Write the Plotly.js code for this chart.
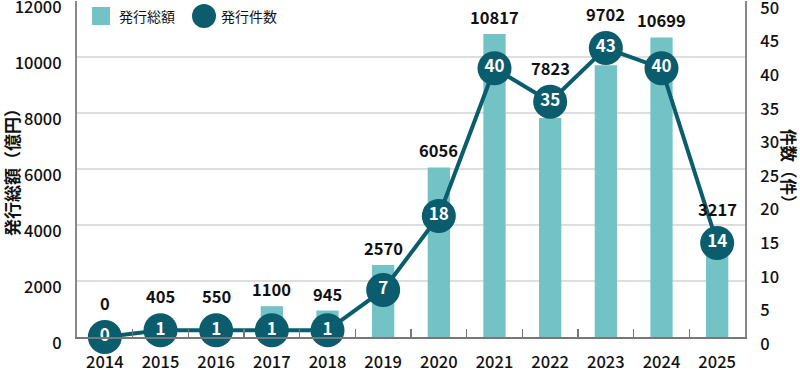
<!DOCTYPE html>
<html>
<head>
<meta charset="utf-8">
<script src="https://cdn.plot.ly/plotly-3.0.1.min.js"></script>
<style>
html,body{margin:0;padding:0;background:#fff;}
#chart{width:800px;height:373px;}
</style>
</head>
<body>
<div id="chart"></div>
<script>
const years = ['2014','2015','2016','2017','2018','2019','2020','2021','2022','2023','2024','2025'];
const amounts = [0, 405, 550, 1100, 945, 2570, 6056, 10817, 7823, 9702, 10699, 3217];
const counts = [0, 1, 1, 1, 1, 7, 18, 40, 35, 43, 40, 14];
const barName = '発行総額';
const lineName = '発行件数';
const leftTitle = '発行総額（億円）';
const rightTitle = '件数（件）';

const BAR_COLOR = '#72c2c6';
const LINE_COLOR = '#0b5d6d';
const FONT = '"Noto Sans CJK JP", "Noto Sans", sans-serif';
const W = 800, H = 373;
const M = {l: 77, r: 55, t: 1, b: 36};
const PW = W - M.l - M.r, PH = H - M.t - M.b;
const Y1MAX = 12000, Y2MAX = 50;

const px = v => (v - M.l) / PW;          // pixel x -> paper
const py = v => (H - M.b - v) / PH;      // pixel y -> paper

const barTrace = {
  type: 'bar', x: years, y: amounts, name: barName,
  marker: {color: BAR_COLOR}, width: 0.4, showlegend: false
};
const lineTrace = {
  type: 'scatter', mode: 'lines+markers+text', x: years, y: counts, yaxis: 'y2', name: lineName,
  line: {color: LINE_COLOR, width: 4},
  marker: {color: LINE_COLOR, size: 34, line: {color: '#ffffff', width: 0}},
  text: counts.map(String), textposition: 'middle center',
  textfont: {family: FONT, size: 17, color: '#ffffff', weight: 700},
  cliponaxis: false, showlegend: false
};

// value labels above bar or marker, whichever is higher
const annotations = years.map((yr, i) => {
  const barPx = amounts[i] / Y1MAX * PH + 17;
  const markPx = counts[i] / Y2MAX * PH + 33;
  const base = {x: i, xref: 'x', showarrow: false, text: String(amounts[i]),
    font: {family: FONT, size: 16.5, color: '#111', weight: 700}, yanchor: 'middle'};
  if (markPx > barPx) return Object.assign(base, {y: counts[i], yref: 'y2', yshift: 34});
  return Object.assign(base, {y: amounts[i], yref: 'y', yshift: 17});
});
annotations.push(
  {xref: 'paper', yref: 'paper', x: px(11), y: py(168), text: leftTitle, textangle: -90, showarrow: false,
   font: {family: FONT, size: 17, color: '#111', weight: 700}, xanchor: 'center', yanchor: 'middle'},
  {xref: 'paper', yref: 'paper', x: px(789), y: py(170), text: rightTitle, textangle: 90, showarrow: false,
   font: {family: FONT, size: 16.5, color: '#111', weight: 700}, xanchor: 'center', yanchor: 'middle'},
  {xref: 'paper', yref: 'paper', x: px(117), y: py(16), text: barName, showarrow: false, xanchor: 'left', yanchor: 'middle',
   font: {family: FONT, size: 14, color: '#111'}},
  {xref: 'paper', yref: 'paper', x: px(219), y: py(16), text: lineName, showarrow: false, xanchor: 'left', yanchor: 'middle',
   font: {family: FONT, size: 14, color: '#111'}}
);

const shapes = [
  {type: 'rect', xref: 'paper', yref: 'paper', x0: px(92), x1: px(110), y0: py(25), y1: py(7),
   fillcolor: BAR_COLOR, line: {width: 0}},
  {type: 'circle', xref: 'paper', yref: 'paper', x0: px(192), x1: px(216), y0: py(28), y1: py(4),
   fillcolor: LINE_COLOR, line: {width: 0}}
];

const TICKFONT = {family: FONT, size: 16.5, color: '#111', weight: 500};
const layout = {
  width: W, height: H, margin: M,
  paper_bgcolor: '#fff', plot_bgcolor: '#fff',
  font: {family: FONT, size: 15, color: '#111'},
  showlegend: false,
  xaxis: {
    type: 'category', range: [-0.5, years.length - 0.5], autorange: false,
    showline: true, linecolor: '#777', linewidth: 1.5,
    ticks: 'inside', tickson: 'boundaries', ticklen: 8, tickcolor: '#777', tickwidth: 1.5,
    tickfont: TICKFONT, tickangle: 0, ticklabelstandoff: 10,
    showgrid: false, zeroline: false
  },
  yaxis: {
    range: [0, Y1MAX], autorange: false, dtick: 2000, tickformat: 'd',
    showline: true, linecolor: '#888', linewidth: 2,
    showgrid: true, gridcolor: '#dedede', gridwidth: 1.5, zeroline: false,
    ticks: '', tickfont: TICKFONT, ticklabeloverflow: 'allow',
    ticklabelshift: 6, ticklabelstandoff: 10
  },
  yaxis2: {
    range: [0, Y2MAX], autorange: false, dtick: 5, tickformat: 'd',
    overlaying: 'y', side: 'right', showline: true, linecolor: '#888', linewidth: 2,
    showgrid: false, zeroline: false, ticks: '', tickfont: TICKFONT, ticklabeloverflow: 'allow',
    ticklabelshift: 7, ticklabelstandoff: 10
  },
  annotations, shapes
};

Plotly.newPlot('chart', [barTrace, lineTrace], layout, {displayModeBar: false, staticPlot: true});
</script>
</body>
</html>
